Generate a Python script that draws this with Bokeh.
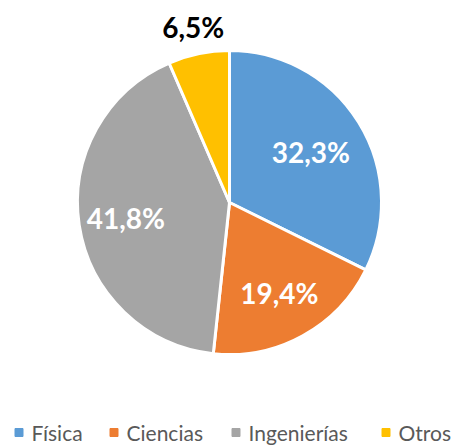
import numpy as np
from bokeh.plotting import figure
from bokeh.models import ColumnDataSource
from bokeh.core.properties import value
from bokeh.embed import file_html
from bokeh.resources import INLINE

categories = ["Física", "Ciencias", "Ingenierías", "Otros"]
shares = [32.3, 19.4, 41.8, 6.5]
labels = ["32,3%", "19,4%", "41,8%", "6,5%"]
colors = ["#5B9BD5", "#ED7D31", "#A5A5A5", "#FFC000"]
label_colors = ["white", "white", "white", "black"]

W, H = 453, 445
cx, cy, R = 229, H - 202, 152

frac = np.array(shares) / sum(shares)
cum = np.concatenate([[0], np.cumsum(frac)])
start = np.pi / 2 - cum[:-1] * 2 * np.pi
end = np.pi / 2 - cum[1:] * 2 * np.pi
mid = (start + end) / 2
rad = np.array([0.63, 0.68, 0.69, 1.18]) * R

src = ColumnDataSource(dict(cat=categories, start=start, end=end, color=colors,
                            lx=cx + rad * np.cos(mid), ly=cy + rad * np.sin(mid),
                            label=labels, lc=label_colors))

p = figure(width=W, height=H, x_range=(0, W), y_range=(0, H),
           output_backend="svg", toolbar_location=None, min_border=0)
p.axis.visible = False
p.grid.visible = False
p.outline_line_color = None
p.background_fill_color = "white"

p.wedge(x=cx, y=cy, radius=R, start_angle="start", end_angle="end", direction="clock",
        fill_color="color", line_color="white", line_width=3, source=src)
p.text(x="lx", y="ly", text="label", text_color="lc", text_font=value("Lato"),
       text_font_style="bold", text_font_size="28px", text_align="center",
       text_baseline="middle", source=src)

# legend
leg_x = [15, 110, 232, 382]
ly = H - 432
sq = dict(x=[v + 3.5 for v in leg_x], y=[ly] * 4, color=colors)
p.rect(x="x", y="y", width=8, height=8, color="color", source=ColumnDataSource(sq))
p.text(x=[v + 16 for v in leg_x], y=[ly] * 4, text=categories, text_color="#595959",
       text_font=value("Lato"), text_font_size="21px", text_baseline="middle")

open("out.html", "w").write(file_html(p, INLINE))
